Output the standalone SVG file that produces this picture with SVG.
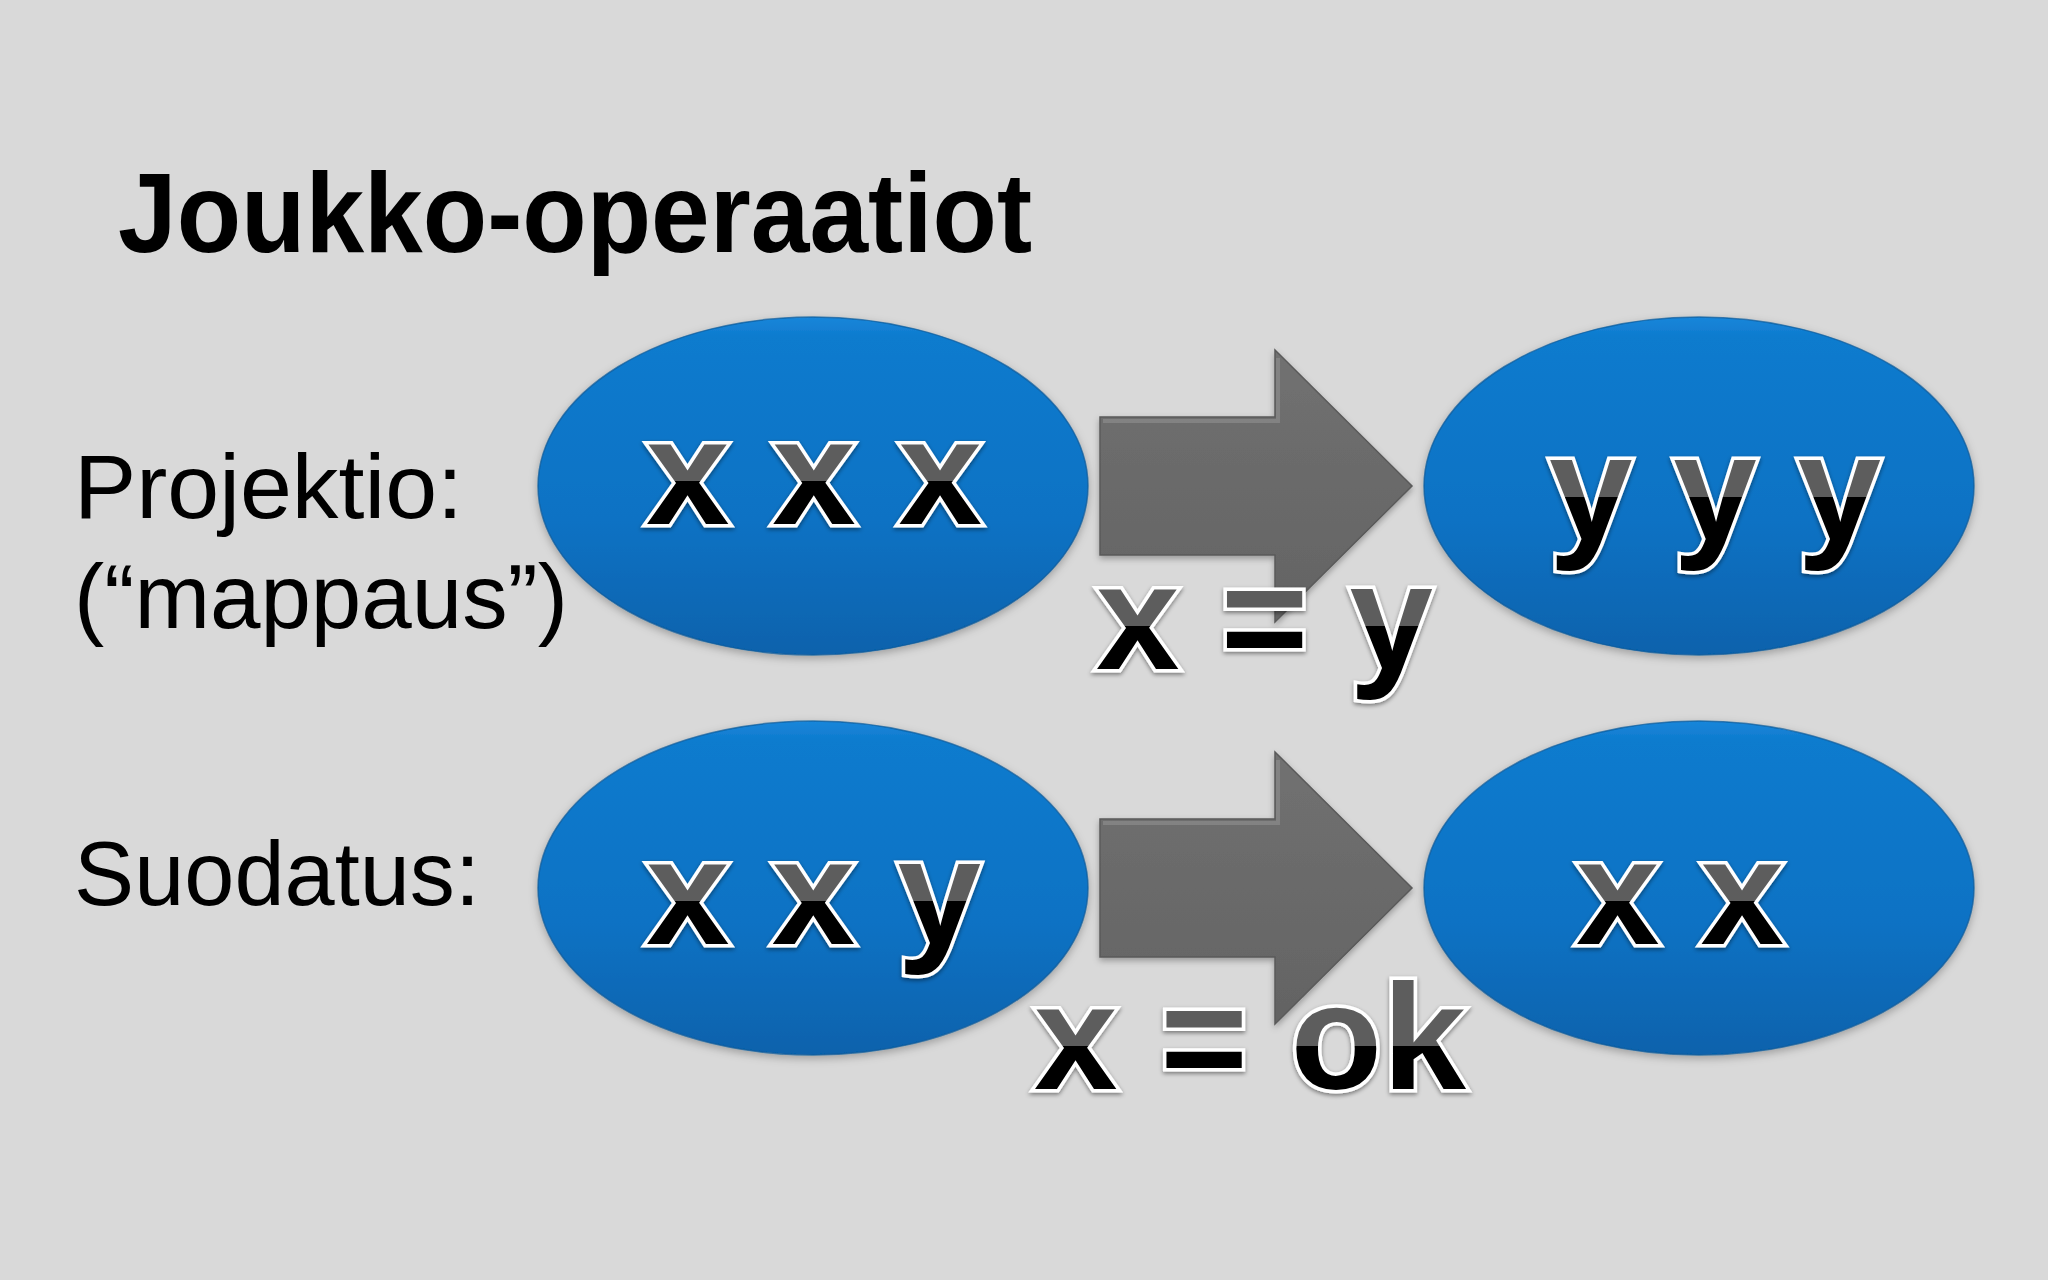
<svg xmlns="http://www.w3.org/2000/svg" width="2048" height="1280" viewBox="0 0 2048 1280">
<style>
.lbl{font-family:"Liberation Sans",Arial,sans-serif;font-size:91px;fill:#000}
.title{font-family:"Liberation Sans",Arial,sans-serif;font-size:114px;font-weight:bold;fill:#000}
.sym{font-family:"Liberation Sans",Arial,sans-serif;font-size:150px;font-weight:bold;fill:url(#txt);stroke:#fff;stroke-width:7;stroke-linejoin:miter;paint-order:stroke;filter:url(#tsh)}
.ell{fill:url(#blue);stroke:#0b5a99;stroke-width:1.5;stroke-opacity:0.7;filter:url(#esh)}
.arr{fill:url(#gray);stroke:#5a5a5a;stroke-width:1.5;filter:url(#ash)}
</style>
<defs>
<linearGradient id="txt" x1="0" y1="0" x2="0" y2="1">
<stop offset="0" stop-color="#5d5d5d"/>
<stop offset="0.555" stop-color="#5d5d5d"/>
<stop offset="0.555" stop-color="#000"/>
<stop offset="1" stop-color="#000"/>
</linearGradient>
<linearGradient id="blue" x1="0" y1="0" x2="0" y2="1">
<stop offset="0" stop-color="#1a86da"/>
<stop offset="0.06" stop-color="#0d7bce"/>
<stop offset="0.6" stop-color="#0a72c4"/>
<stop offset="1" stop-color="#0762ac"/>
</linearGradient>
<linearGradient id="gray" x1="0" y1="0" x2="0" y2="1">
<stop offset="0" stop-color="#717171"/>
<stop offset="1" stop-color="#636363"/>
</linearGradient>
<filter id="esh" x="-10%" y="-10%" width="120%" height="125%">
<feDropShadow dx="0" dy="3" stdDeviation="4" flood-color="#000" flood-opacity="0.28"/>
</filter>
<filter id="ash" x="-10%" y="-10%" width="120%" height="125%">
<feDropShadow dx="0" dy="3" stdDeviation="3" flood-color="#000" flood-opacity="0.3"/>
</filter>
<filter id="tsh" x="-10%" y="-10%" width="120%" height="130%">
<feDropShadow dx="0" dy="2" stdDeviation="2" flood-color="#000" flood-opacity="0.45"/>
</filter>
</defs>
<rect width="2048" height="1280" fill="#d9d9d9"/>
<text class="title" x="118" y="252" textLength="914" lengthAdjust="spacingAndGlyphs">Joukko-operaatiot</text>
<text class="lbl" x="74" y="518" textLength="389" lengthAdjust="spacingAndGlyphs">Projektio:</text>
<text class="lbl" x="74" y="628" textLength="494" lengthAdjust="spacingAndGlyphs">(“mappaus”)</text>
<text class="lbl" x="74" y="905" textLength="406" lengthAdjust="spacingAndGlyphs">Suodatus:</text>
<g id="connectors">
<g id="arrow-top">
<path class="arr" d="M1100,417 L1275,417 L1275,350 L1412,486 L1275,622 L1275,555 L1100,555 Z"/>
<path d="M1103,421 L1278,421 L1278,358" fill="none" stroke="#8c8c8c" stroke-width="4" opacity="0.7"/>
</g>
<g id="arrow-bottom">
<path class="arr" d="M1100,819 L1275,819 L1275,752 L1412,888 L1275,1024 L1275,957 L1100,957 Z"/>
<path d="M1103,823 L1278,823 L1278,760" fill="none" stroke="#8c8c8c" stroke-width="4" opacity="0.7"/>
</g>
</g>
<g id="node-a1">
<ellipse class="ell" cx="813" cy="486" rx="275" ry="169"/>
<text class="sym" x="646" y="524" textLength="336" lengthAdjust="spacing">x x x</text>
</g>
<g id="node-a2">
<ellipse class="ell" cx="1699" cy="486" rx="275" ry="169"/>
<text class="sym" x="1549" y="540" textLength="332" lengthAdjust="spacing">y y y</text>
</g>
<g id="node-b1">
<ellipse class="ell" cx="813" cy="888" rx="275" ry="167"/>
<text class="sym" x="646" y="944" textLength="335" lengthAdjust="spacing">x x y</text>
</g>
<g id="node-b2">
<ellipse class="ell" cx="1699" cy="888" rx="275" ry="167"/>
<text class="sym" x="1576" y="944" textLength="208" lengthAdjust="spacing">x x</text>
</g>
<g id="edge-labels">
<text class="sym" x="1096" y="669" textLength="337" lengthAdjust="spacing">x = y</text>
<text class="sym" x="1034" y="1089" textLength="432" lengthAdjust="spacing">x = ok</text>
</g>
</svg>
